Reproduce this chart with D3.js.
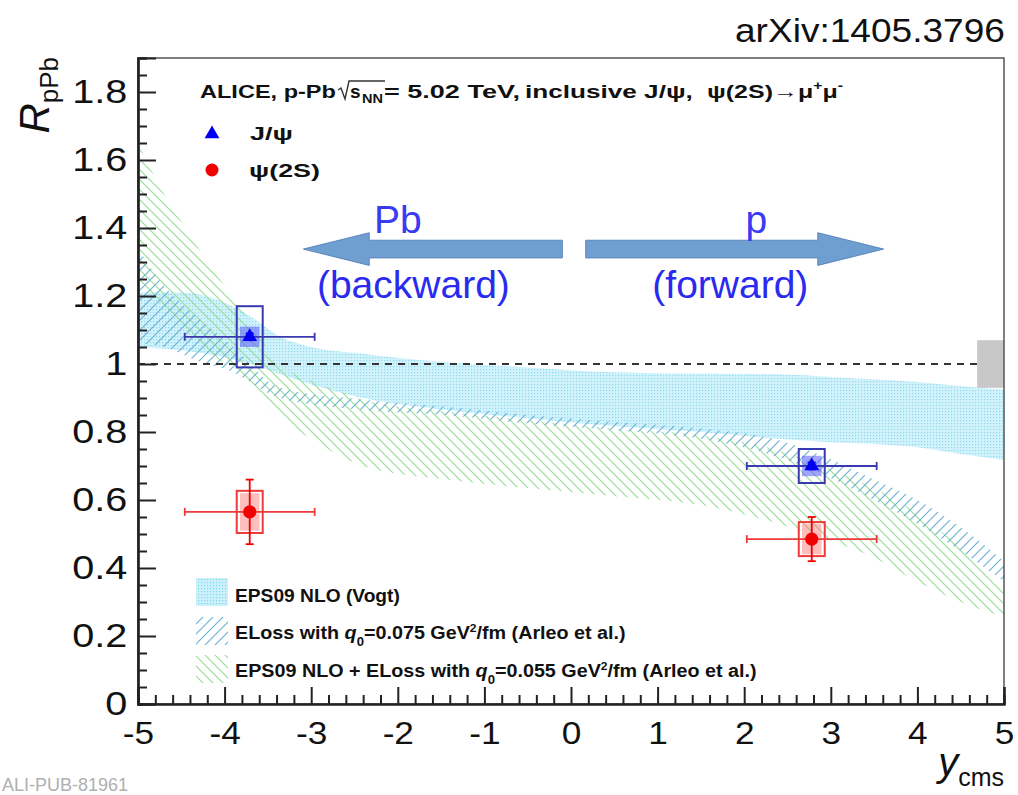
<!DOCTYPE html>
<html><head><meta charset="utf-8">
<script src="https://cdn.jsdelivr.net/npm/d3@7"></script>
<style>
body{margin:0;background:#fff}
svg{display:block}
text{font-family:"Liberation Sans",Arial,Helvetica,sans-serif}
</style>
</head><body>
<script>
// ---- data ----
const xTicks = [-5,-4,-3,-2,-1,0,1,2,3,4,5];
const yTicks = [0,0.2,0.4,0.6,0.8,1,1.2,1.4,1.6,1.8];
const xTickLabels = ["-5","-4","-3","-2","-1","0","1","2","3","4","5"];
const yTickLabels = ["0","0.2","0.4","0.6","0.8","1","1.2","1.4","1.6","1.8"];

// EPS09 NLO (Vogt) band
const vogtX  = [-5,-4.5,-4,-3.7,-3.36,-3,-2.4,-1.44,-0.5,0.48,1.5,2.4,3,3.5,4,4.5,5];
const vogtHi = [1.21,1.21,1.18,1.14,1.08,1.05,1.03,1.005,0.99,0.976,0.972,0.97,0.962,0.955,0.947,0.935,0.924];
const vogtLo = [1.05,1.04,1.02,1.00,0.97,0.94,0.90,0.865,0.84,0.818,0.80,0.78,0.77,0.765,0.755,0.735,0.718];

// ELoss q0=0.075 band
const elossX  = [-5,-4.7,-4.32,-3.94,-3.36,-2.4,-1.44,-0.5,0.48,1.5,2.4,3,3.5,4,4.5,5];
const elossHi = [1.34,1.23,1.14,1.06,0.93,0.895,0.874,0.85,0.83,0.81,0.776,0.72,0.66,0.60,0.52,0.42];
const elossLo = [1.06,1.05,1.01,0.98,0.90,0.865,0.85,0.825,0.806,0.78,0.726,0.665,0.60,0.53,0.45,0.36];

// EPS09 NLO + ELoss q0=0.055 band
const combX  = [-5,-4.7,-4.4,-4.2,-4,-3.7,-3.36,-3,-2.67,-2.4,-1.44,-0.5,0.48,1.5,2.4,3,3.5,4,4.5,5];
const combHi = [1.65,1.50,1.38,1.30,1.23,1.12,1.0,0.95,0.92,0.894,0.86,0.835,0.81,0.79,0.745,0.69,0.635,0.56,0.46,0.345];
const combLo = [1.25,1.15,1.08,1.04,1.0,0.93,0.84,0.78,0.73,0.70,0.66,0.635,0.612,0.585,0.53,0.48,0.43,0.36,0.30,0.256];

// measurements: rapidity bin, R_pPb, stat, uncorrelated syst, correlated syst
const binLo   = [-4.46, 2.03];
const binHi   = [-2.96, 3.53];
const binMid  = [-3.71, 2.78];
const jpsiVal  = [1.08, 0.70];
const jpsiStat = [0.01, 0.01];
const jpsiSyst = [0.09, 0.05];
const jpsiCorr = [0.03, 0.03];
const psiVal  = [0.565, 0.485];
const psiStat = [0.095, 0.065];
const psiSyst = [0.062, 0.05];
const psiCorr = [0.055, 0.045];
const globalSyst = 0.07;

// ---- layout ----
const W = 1018, H = 795;
const x = d3.scaleLinear([-5,5],[138,1004]);
const y = d3.scaleLinear([0,1.9],[704,58]);

const svg = d3.select("body").append("svg").attr("width",W).attr("height",H);
const defs = svg.append("defs");

// stretch a start-anchored text horizontally so it spans [x0, x1]
function fit(sel, x0, x1, base){
  const w = sel.node().getBBox().width;
  sel.attr("x",null).attr("transform",`translate(${x0},${base}) scale(${(x1-x0)/w},1)`);
  return sel;
}

// fill patterns
const pDot = defs.append("pattern").attr("id","dots").attr("patternUnits","userSpaceOnUse")
  .attr("width",3).attr("height",3);
pDot.append("rect").attr("width",3).attr("height",3).attr("fill","#cdf1fb");
pDot.append("rect").attr("width",1.2).attr("height",1.2).attr("fill","#7fd6ef");

const pBlue = defs.append("pattern").attr("id","hatchBlue").attr("patternUnits","userSpaceOnUse")
  .attr("width",10).attr("height",10);
pBlue.append("path").attr("d","M-1,11 L11,-1 M-6,6 L6,-6 M4,16 L16,4")
  .attr("stroke","#6eb2d4").attr("stroke-width",1.2).attr("fill","none");

const pGreen = defs.append("pattern").attr("id","hatchGreen").attr("patternUnits","userSpaceOnUse")
  .attr("width",10).attr("height",10);
pGreen.append("path").attr("d","M-1,-1 L11,11 M-6,4 L6,16 M4,-6 L16,6")
  .attr("stroke","#97dd97").attr("stroke-width",1.2).attr("fill","none");

function bandPts(xs, hi, lo){ return xs.map((v,i)=>({x:v,hi:hi[i],lo:lo[i]})); }
const area = d3.area().x(d=>x(d.x)).y0(d=>y(d.lo)).y1(d=>y(d.hi)).curve(d3.curveMonotoneX);

const plot = svg.append("g");
plot.append("path").datum(bandPts(vogtX,vogtHi,vogtLo)).attr("d",area)
  .attr("fill","url(#dots)").attr("opacity",0.9);
plot.append("path").datum(bandPts(combX,combHi,combLo)).attr("d",area)
  .attr("fill","url(#hatchGreen)");
plot.append("path").datum(bandPts(elossX,elossHi,elossLo)).attr("d",area)
  .attr("fill","url(#hatchBlue)");

// reference line at unity
plot.append("line").attr("x1",x(-5)).attr("x2",x(5)).attr("y1",y(1)).attr("y2",y(1))
  .attr("stroke","#333").attr("stroke-width",2).attr("stroke-dasharray","7,6");

// global normalisation uncertainty
plot.append("rect").attr("x",x(4.69)).attr("width",x(5)-x(4.69))
  .attr("y",y(1+globalSyst)).attr("height",y(1-globalSyst)-y(1+globalSyst))
  .attr("fill","#c8c8c8");

// measurement points
function drawSeries(vals, stat, syst, corr, col, boxCol, fillCol, sym){
  const g = plot.append("g");
  vals.forEach((v,i)=>{
    const xm = x(binMid[i]);
    const hw = x(binMid[i]+0.15)-xm;
    g.append("rect").attr("x",xm-hw*0.75).attr("width",hw*1.5)
      .attr("y",y(v+corr[i])).attr("height",y(v-corr[i])-y(v+corr[i]))
      .attr("fill",fillCol);
    g.append("rect").attr("x",xm-hw).attr("width",2*hw)
      .attr("y",y(v+syst[i])).attr("height",y(v-syst[i])-y(v+syst[i]))
      .attr("fill","none").attr("stroke",boxCol).attr("stroke-width",2);
    g.append("line").attr("x1",x(binLo[i])).attr("x2",x(binHi[i])).attr("y1",y(v)).attr("y2",y(v))
      .attr("stroke",boxCol).attr("stroke-width",1.8);
    [binLo[i],binHi[i]].forEach(e=>g.append("line").attr("x1",x(e)).attr("x2",x(e))
      .attr("y1",y(v)-4).attr("y2",y(v)+4).attr("stroke",boxCol).attr("stroke-width",1.8));
    g.append("line").attr("x1",xm).attr("x2",xm).attr("y1",y(v+stat[i])).attr("y2",y(v-stat[i]))
      .attr("stroke",col).attr("stroke-width",1.8);
    [v+stat[i],v-stat[i]].forEach(e=>g.append("line").attr("x1",xm-4).attr("x2",xm+4)
      .attr("y1",y(e)).attr("y2",y(e)).attr("stroke",col).attr("stroke-width",1.8));
    g.append("path").attr("d",sym).attr("transform",`translate(${xm},${y(v)})`).attr("fill",col);
  });
}
drawSeries(jpsiVal,jpsiStat,jpsiSyst,jpsiCorr,"#0000f0","#3a3ab0","rgba(90,90,255,0.55)",
  d3.symbol(d3.symbolTriangle,95)());
drawSeries(psiVal,psiStat,psiSyst,psiCorr,"#f00000","#ee3a3a","rgba(255,110,110,0.45)",
  d3.symbol(d3.symbolCircle,135)());

// ---- axes ----
const minorX = d3.range(-5,5.001,0.2).filter(v=>Math.abs(v-Math.round(v))>1e-6);
const minorY = d3.range(0,1.9001,0.05).filter(v=>Math.abs(v*5-Math.round(v*5))>1e-6);

svg.append("rect").attr("x",x(-5)).attr("y",y(1.9)).attr("width",x(5)-x(-5)).attr("height",y(0)-y(1.9))
  .attr("fill","none").attr("stroke","#555").attr("stroke-width",1.5);

const xAx = svg.append("g").attr("transform",`translate(0,${y(0)})`)
  .call(d3.axisBottom(x).tickValues(xTicks).tickSize(-17).tickPadding(17)
    .tickFormat((d,i)=>xTickLabels[i]));
svg.append("g").attr("transform",`translate(0,${y(0)})`)
  .call(d3.axisBottom(x).tickValues(minorX).tickSize(-9).tickFormat(""));
const yAx = svg.append("g").attr("transform",`translate(${x(-5)},0)`)
  .call(d3.axisLeft(y).tickValues(yTicks).tickSize(-18).tickPadding(9)
    .tickFormat((d,i)=>yTickLabels[i]));
svg.append("g").attr("transform",`translate(${x(-5)},0)`)
  .call(d3.axisLeft(y).tickValues(minorY).tickSize(-9).tickFormat(""));
svg.selectAll(".domain").attr("stroke","#222").attr("stroke-width",2.2);
svg.selectAll(".tick line").attr("stroke","#222").attr("stroke-width",2);
xAx.selectAll("text").attr("font-size",32).attr("fill","#111").attr("font-family","Liberation Sans")
  .attr("transform","scale(1.1,1)");
yAx.selectAll("text").attr("font-size",33).attr("fill","#111").attr("font-family","Liberation Sans")
  .attr("transform","scale(1.2,1)");

// axis titles
const yt = svg.append("text").attr("transform",`translate(49,57) rotate(-90)`).attr("text-anchor","end")
  .attr("font-size",42).attr("fill","#111");
yt.append("tspan").attr("font-style","italic").text("R");
yt.append("tspan").attr("font-size",26).attr("dy",9).text("pPb");

const xt = svg.append("text").attr("x",1004).attr("y",776).attr("text-anchor","end")
  .attr("font-size",40).attr("fill","#111");
xt.append("tspan").attr("font-style","italic").text("y");
xt.append("tspan").attr("font-size",25).attr("dy",10).text("cms");

fit(svg.append("text").attr("font-size",33).attr("fill","#111").text("arXiv:1405.3796"), 735, 1005, 42);

svg.append("text").attr("x",2).attr("y",791).attr("font-size",18).attr("fill","#b0b0b0")
  .attr("font-family","DejaVu Sans Mono").text("ALI-PUB-81961");

// ---- header ----
const hdrG = svg.append("g").attr("font-size",19).attr("font-weight","bold").attr("fill","#111");
fit(hdrG.append("text").text("ALICE, p-Pb"), 200, 336, 98);
hdrG.append("path").attr("d","M338,90 L341,88 L345,99 L349,81 L385,81")
  .attr("fill","none").attr("stroke","#333").attr("stroke-width",1.4);
hdrG.append("text").attr("x",350).attr("y",98).text("s");
fit(hdrG.append("text").attr("font-size",13).text("NN"), 362, 383, 103);
fit(hdrG.append("text").text("= 5.02 TeV,"), 384, 520, 98);
fit(hdrG.append("text").text("inclusive J/\u03C8,"), 525, 693, 98);
const hd = hdrG.append("text");
hd.append("tspan").text("\u03C8(2S)\u2192\u03BC");
hd.append("tspan").attr("font-size",12).attr("dy",-8).text("+");
hd.append("tspan").attr("dy",8).text("\u03BC");
hd.append("tspan").attr("font-size",12).attr("dy",-8).text("-");
fit(hd, 707, 843, 98);

// ---- legends ----
const legTop = svg.append("g").attr("font-size",19).attr("font-weight","bold").attr("fill","#111");
legTop.append("path").attr("d",d3.symbol(d3.symbolTriangle,95)()).attr("transform","translate(212,134)").attr("fill","#0000f0");
legTop.append("circle").attr("cx",212).attr("cy",170).attr("r",6.5).attr("fill","#f00000");
fit(legTop.append("text").text("J/\u03C8"), 250, 293, 140);
fit(legTop.append("text").text("\u03C8(2S)"), 249, 320, 177);

const legBot = svg.append("g").attr("font-size",18).attr("font-weight","bold").attr("fill","#111");
[["url(#dots)",578],["url(#hatchBlue)",617],["url(#hatchGreen)",655]].forEach(e=>
  legBot.append("rect").attr("x",196).attr("y",e[1]).attr("width",32).attr("height",28).attr("fill",e[0]));
fit(legBot.append("text").text("EPS09 NLO (Vogt)"), 235, 400, 602);
function qLine(prefix, val){
  const t = legBot.append("text");
  t.append("tspan").text(prefix);
  t.append("tspan").attr("font-style","italic").text("q");
  t.append("tspan").attr("font-size",12).attr("dy",7).text("0");
  t.append("tspan").attr("dy",-7).text("="+val+" GeV");
  t.append("tspan").attr("font-size",11).attr("dy",-7).text("2");
  t.append("tspan").attr("dy",7).text("/fm (Arleo et al.)");
  return t;
}
fit(qLine("ELoss with  ","0.075"), 235, 626, 639);
fit(qLine("EPS09 NLO + ELoss with  ","0.055"), 235, 757, 677);

// ---- direction arrows ----
const arrowY = 1.338, shaftH = 0.026, headH = 0.048;
function arrow(from, to){
  const dir = Math.sign(to-from), headLen = 0.76*dir;
  const base = to - headLen;
  const pts = [[from,arrowY+shaftH],[base,arrowY+shaftH],[base,arrowY+headH],[to,arrowY],
               [base,arrowY-headH],[base,arrowY-shaftH],[from,arrowY-shaftH]];
  svg.append("path").attr("d",d3.line().x(p=>x(p[0])).y(p=>y(p[1]))(pts)+"Z")
    .attr("fill","#6f9fd1").attr("stroke","#5b86bb").attr("stroke-width",1);
}
arrow(-0.1,-3.09);
arrow(0.17,3.61);
const ann = svg.append("g").attr("fill","#2a2af0").attr("font-size",39).attr("text-anchor","middle");
ann.append("text").attr("x",x(-2.0)).attr("y",233).attr("fill","#3a3af2").text("Pb");
ann.append("text").attr("x",x(-1.82)).attr("y",298).text("(backward)");
ann.append("text").attr("x",x(2.14)).attr("y",233).attr("fill","#3a3af2").text("p");
ann.append("text").attr("x",x(1.84)).attr("y",298).text("(forward)");
</script>
</body></html>
